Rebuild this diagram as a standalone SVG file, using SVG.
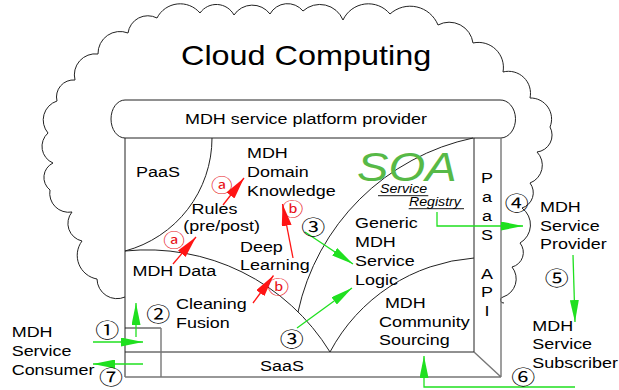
<svg xmlns="http://www.w3.org/2000/svg" width="619" height="390" viewBox="0 0 619 390">
  <style>
    .ln { fill: none; stroke: #222; stroke-width: 1; }
    .gl { fill: none; stroke: #777; stroke-width: 1.4; }
    .t { font-family: "Liberation Sans", Arial, sans-serif; font-size: 15.2px; fill: #000; }
    .v { text-anchor: middle; }
    .soa { font-family: "Liberation Sans", Arial, sans-serif; font-size: 40px; font-style: italic; fill: #57b947; }
    .reg { font-family: "Liberation Sans", Arial, sans-serif; font-size: 12px; font-style: italic; fill: #000; }
    .ul { stroke: #000; stroke-width: 0.9; }
    .n { font-family: "Noto Sans CJK JP", "DejaVu Sans", sans-serif; font-size: 20px; text-anchor: middle; dominant-baseline: central; fill: #000; }
    .m { font-family: "Noto Sans CJK JP", "DejaVu Sans", sans-serif; font-size: 18px; text-anchor: middle; dominant-baseline: central; fill: #e8141a; }
    .g { fill: none; stroke: #1fe01f; stroke-width: 1.3; marker-end: url(#ag); }
    .r { fill: none; stroke: #ff1414; stroke-width: 1.3; marker-end: url(#ar); }
  </style>
  <defs>
    <marker id="ag" markerUnits="userSpaceOnUse" markerWidth="22" markerHeight="9" refX="22" refY="4.5" orient="auto">
      <path d="M0,0 L22,4.5 L0,9 Z" fill="#1fe01f"/>
    </marker>
    <marker id="ar" markerUnits="userSpaceOnUse" markerWidth="22" markerHeight="10" refX="22" refY="5" orient="auto">
      <path d="M0,0 L22,5 L0,10 Z" fill="#ff1414"/>
    </marker>
  </defs>
  <rect width="619" height="390" fill="#fff"/>

  <!-- cloud outline, open where it meets the platform box -->
  <g id="cloud">
    <path class="ln" d="M125,297 A20,20 0 0 1 97,279 A24,24 0 0 1 82,241 A18,18 0 0 1 72,212 A19,19 0 0 1 50,190 A16,16 0 0 1 53,163 A18,18 0 0 1 48,133 A20,20 0 0 1 57,101 A17,17 0 0 1 75,80 A21,21 0 0 1 98,54 A22,22 0 0 1 128,33 A20,20 0 0 1 157,18 A26,26 0 0 1 200,13 A20,20 0 0 1 234,15 A22,22 0 0 1 270,14 A20,20 0 0 1 303,11 A25,25 0 0 1 343,20 A28,28 0 0 1 390,14 A30,30 0 0 1 438,25 A24,24 0 0 1 473,43 A25,25 0 0 1 503,72 A22,22 0 0 1 530,98 A21,21 0 0 1 550,127 A17,17 0 0 1 537,152 A19,19 0 0 1 530,183 A16,16 0 0 1 522,208 A21,21 0 0 1 520,243 A15,15 0 0 1 512,267 A19,19 0 0 1 503,297 A3,3 0 0 0 504,303"/>
    <text class="t" style="font-size:27px" transform="matrix(1.2 0 0 1 181 65)">Cloud Computing</text>
  </g>

  <!-- platform box with PaaS column and SaaS strip -->
  <g id="platform">
    <path d="M125,100 H500 A15,19 0 0 1 501,138 H125 A14,19 0 0 1 125,100 Z" fill="#fff" stroke="#222" stroke-width="1"/>
    <text class="t" transform="matrix(1.18 0 0 1 185 124)">MDH service platform provider</text>
    <path class="ln" d="M125,138 V377 M474,138 V352 M125,352 H474 M125,328 H161"/>
    <path class="gl" d="M501,138 V377 M125,377 H501 M474,352 L501,377 M161,328 V377"/>
    <path class="ln" d="M212,138 A117,117 0 0 1 125,251"/>
    <path class="ln" d="M125,251 A215,215 0 0 1 330,352"/>
    <path class="ln" d="M473,138 A227,227 0 0 0 298,312"/>
    <path class="ln" d="M330,352 A178,178 0 0 1 474,258"/>
  </g>

  <g id="paas"><text class="t" transform="matrix(1.18 0 0 1 136 177)">PaaS</text></g>
  <g id="saas"><text class="t" transform="matrix(1.18 0 0 1 260 370.7)">SaaS</text></g>
  <g id="paas-api">
    <text class="t v" transform="matrix(1.18 0 0 1 487 0)"><tspan x="0" y="183.3">P</tspan><tspan x="0" y="202">a</tspan><tspan x="0" y="221">a</tspan><tspan x="0" y="240.5">S</tspan><tspan x="0" y="279">A</tspan><tspan x="0" y="297">P</tspan><tspan x="0" y="316.5">I</tspan></text>
  </g>
  <g id="domain-knowledge">
    <text class="t" transform="matrix(1.18 0 0 1 247 0)"><tspan x="0" y="158.3">MDH</tspan><tspan x="0" y="177.3">Domain</tspan><tspan x="0" y="196">Knowledge</tspan></text>
  </g>
  <g id="rules">
    <text class="t" transform="matrix(1.18 0 0 1 183.3 0)"><tspan x="7" y="214.3">Rules</tspan><tspan x="0" y="231.5">(pre/post)</tspan></text>
  </g>
  <g id="deep-learning">
    <text class="t" transform="matrix(1.18 0 0 1 240 0)"><tspan x="0" y="251.7">Deep</tspan><tspan x="0" y="270">Learning</tspan></text>
  </g>
  <g id="mdh-data"><text class="t" transform="matrix(1.18 0 0 1 132.5 275.5)">MDH Data</text></g>
  <g id="cleaning-fusion">
    <text class="t" transform="matrix(1.18 0 0 1 176 0)"><tspan x="0" y="309.3">Cleaning</tspan><tspan x="0" y="327.7">Fusion</tspan></text>
  </g>
  <g id="service-logic">
    <text class="t" transform="matrix(1.18 0 0 1 355 0)"><tspan x="0" y="228.3">Generic</tspan><tspan x="0" y="247">MDH</tspan><tspan x="0" y="266.3">Service</tspan><tspan x="0" y="285">Logic</tspan></text>
  </g>
  <g id="community-sourcing">
    <text class="t" transform="matrix(1.18 0 0 1 379 0)"><tspan x="5" y="308.3">MDH</tspan><tspan x="0" y="327.3">Community</tspan><tspan x="0" y="345">Sourcing</tspan></text>
  </g>
  <g id="soa">
    <text class="soa" transform="matrix(1.18 0 0 1 357 180.7)">SOA</text>
    <text class="reg" transform="matrix(1.18 0 0 1 380 193.3)">Service</text>
    <line class="ul" x1="378" y1="195.7" x2="428.3" y2="195.7"/>
    <text class="reg" transform="matrix(1.18 0 0 1 409 206)">Registry</text>
    <line class="ul" x1="408.7" y1="208.7" x2="464" y2="208.7"/>
  </g>
  <g id="provider">
    <text class="t" transform="matrix(1.18 0 0 1 540 0)"><tspan x="0" y="211.7">MDH</tspan><tspan x="0" y="230.7">Service</tspan><tspan x="0" y="249.3">Provider</tspan></text>
  </g>
  <g id="subscriber">
    <text class="t" transform="matrix(1.18 0 0 1 532.3 0)"><tspan x="0" y="330.7">MDH</tspan><tspan x="0" y="349.3">Service</tspan><tspan x="0" y="368.3">Subscriber</tspan></text>
  </g>
  <g id="consumer">
    <text class="t" transform="matrix(1.18 0 0 1 11.7 0)"><tspan x="0" y="337.3">MDH</tspan><tspan x="0" y="356">Service</tspan><tspan x="0" y="375">Consumer</tspan></text>
  </g>

  <!-- connectors -->
  <g id="connectors">
    <path class="g" d="M93,342 L143,342"/>
    <path class="g" d="M143,364 L93,364"/>
    <path class="g" d="M136,337 L136,303"/>
    <path class="g" d="M305,232 L353,264"/>
    <path class="g" d="M297,328 L352,288"/>
    <path class="g" d="M437,212 V226 H523"/>
    <path class="g" d="M573,255 L575,322"/>
    <path class="g" d="M575,387 H424 V356"/>
    <path class="r" d="M173,264 L196,237"/>
    <path class="r" d="M223,205 L244,178"/>
    <path class="r" d="M253,303 L273.5,275.5"/>
    <path class="r" d="M293,258 L282.5,204"/>
  </g>

  <!-- step numbers and flow letters -->
  <g id="steps">
    <text class="n" transform="matrix(1.2 0 0 1 107.3 329.3)">①</text>
    <text class="n" transform="matrix(1.2 0 0 1 158.3 313.3)">②</text>
    <text class="n" transform="matrix(1.2 0 0 1 313.3 226)">③</text>
    <text class="n" transform="matrix(1.2 0 0 1 291.7 338.3)">③</text>
    <text class="n" transform="matrix(1.2 0 0 1 516.7 201.7)">④</text>
    <text class="n" transform="matrix(1.2 0 0 1 556.7 277.3)">⑤</text>
    <text class="n" transform="matrix(1.2 0 0 1 523.3 376)">⑥</text>
    <text class="n" transform="matrix(1.2 0 0 1 111 376)">⑦</text>
    <text class="m" transform="matrix(1.2 0 0 1 174 239.3)">ⓐ</text>
    <text class="m" transform="matrix(1.2 0 0 1 221.7 184)">ⓐ</text>
    <text class="m" transform="matrix(1.2 0 0 1 278.3 286)">ⓑ</text>
    <text class="m" transform="matrix(1.2 0 0 1 292.5 208.3)">ⓑ</text>
  </g>
</svg>
